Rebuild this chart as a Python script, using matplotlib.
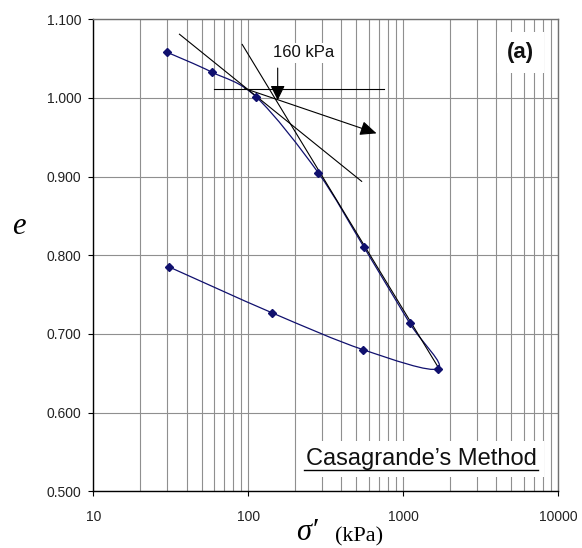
import numpy as np
import matplotlib
matplotlib.use("Agg")
import matplotlib.pyplot as plt
from matplotlib.path import Path
from matplotlib.patches import PathPatch
from matplotlib.ticker import FixedLocator, FixedFormatter, FormatStrFormatter

# oedometer test: loading then unloading, one Excel "smoothed line" series
sigma = [30, 58, 113, 283, 560, 1100, 1680, 552, 142, 31]
void_ratio = [1.058, 1.033, 1.001, 0.905, 0.810, 0.714, 0.656, 0.680, 0.727, 0.785]

# Casagrande construction lines (start, end)
tangent_sigma = [36, 540]
tangent_e = [1.081, 0.894]
vcl_sigma = [91.5, 1680]
vcl_e = [1.068, 0.658]
horiz_sigma = [60, 750]
horiz_e = [1.012, 1.012]
bisector_sigma = [95, 674]
bisector_e = [1.012, 0.955]
pc_sigma = 155
pc_e = [1.038, 0.997]

x_ticks = [10, 100, 1000, 10000]
x_ticklabels = ["10", "100", "1000", "10000"]
y_ticks = [0.5, 0.6, 0.7, 0.8, 0.9, 1.0, 1.1]

NAVY = "#10106e"
GRID = "#8f8f8f"
SANS = ["Liberation Sans", "DejaVu Sans"]
SERIF = ["Liberation Serif", "DejaVu Serif"]


def smooth_path(xs, ys):
    """Catmull-Rom style Bezier through the points, built in (log x, y) space."""
    lx = np.log10(np.asarray(xs, dtype=float))
    y = np.asarray(ys, dtype=float)
    pts = np.column_stack([lx, y])
    n = len(pts)
    verts = [pts[0]]
    codes = [Path.MOVETO]
    for i in range(n - 1):
        p0 = pts[max(i - 1, 0)]
        p1 = pts[i]
        p2 = pts[i + 1]
        p3 = pts[min(i + 2, n - 1)]
        c1 = p1 + (p2 - p0) / 6.0
        c2 = p2 - (p3 - p1) / 6.0
        verts += [c1, c2, p2]
        codes += [Path.CURVE4] * 3
    verts = np.array(verts)
    verts[:, 0] = 10 ** verts[:, 0]
    return Path(verts, codes)


fig = plt.figure(figsize=(5.82, 5.48), dpi=100)
ax = fig.add_axes([0.1603, 0.1035, 0.7985, 0.8613])

ax.set_xscale("log")
ax.set_xlim(10, 10000)
ax.set_ylim(0.5, 1.1)

ax.xaxis.set_major_locator(FixedLocator(x_ticks))
ax.xaxis.set_major_formatter(FixedFormatter(x_ticklabels))
ax.xaxis.set_minor_formatter(FixedFormatter([]))
ax.yaxis.set_major_locator(FixedLocator(y_ticks))
ax.yaxis.set_major_formatter(FormatStrFormatter("%.3f"))

ax.grid(True, which="both", axis="x", color=GRID, lw=0.8)
ax.grid(True, which="major", axis="y", color=GRID, lw=0.8)
ax.set_axisbelow(True)

ax.tick_params(axis="both", which="major", direction="out", length=3.5,
               width=0.8, color="black", labelsize=10, labelcolor="#222222")
ax.tick_params(axis="x", which="major", pad=10)
ax.tick_params(axis="y", which="major", pad=5)
ax.tick_params(axis="x", which="minor", length=0)
for lab in ax.get_xticklabels() + ax.get_yticklabels():
    lab.set_fontfamily(SANS)

for side in ["left", "bottom"]:
    ax.spines[side].set_color("black")
    ax.spines[side].set_linewidth(1.0)
for side in ["top", "right"]:
    ax.spines[side].set_color("#707070")
    ax.spines[side].set_linewidth(1.0)

# data series (smoothed) and markers
ax.add_patch(PathPatch(smooth_path(sigma, void_ratio), fill=False,
                       edgecolor=NAVY, lw=0.9, zorder=2.5))
ax.plot(sigma, void_ratio, ls="none", marker="D", ms=3.6, color=NAVY, zorder=4)

# construction lines
ax.plot(tangent_sigma, tangent_e, color="black", lw=0.8, zorder=3)
ax.plot(vcl_sigma, vcl_e, color="black", lw=0.8, zorder=3)
ax.plot(horiz_sigma, horiz_e, color="black", lw=0.8, zorder=3)
ax.annotate("", xy=(bisector_sigma[1], bisector_e[1]),
            xytext=(bisector_sigma[0], bisector_e[0]),
            arrowprops=dict(arrowstyle="-|>,head_length=0.5,head_width=0.22",
                            mutation_scale=20, color="black", lw=0.8,
                            shrinkA=0, shrinkB=0), zorder=3)
ax.annotate("", xy=(pc_sigma, pc_e[1]), xytext=(pc_sigma, pc_e[0]),
            arrowprops=dict(arrowstyle="-|>,head_length=0.45,head_width=0.22",
                            mutation_scale=20, color="black", lw=0.8,
                            shrinkA=0, shrinkB=0), zorder=3)

# text boxes
ax.text(0.4534, 0.9286, "160 kPa", transform=ax.transAxes, ha="center",
        va="center", fontsize=12, family=SANS, color="#111111", zorder=5,
        bbox=dict(boxstyle="square,pad=0.15", fc="white", ec="none"))
ax.text(0.920, 0.9286, "(a)", transform=ax.transAxes, ha="center",
        va="center", fontsize=16, fontweight="bold", family=SANS,
        color="#111111", zorder=5,
        bbox=dict(boxstyle="square,pad=0.45", fc="white", ec="none"))
ax.text(0.706, 0.0557, "Casagrande\u2019s Method", transform=ax.transAxes,
        ha="center", va="baseline", fontsize=17, family=SANS, color="#111111",
        zorder=5, bbox=dict(boxstyle="square,pad=0.3", fc="white", ec="none"))
ax.plot([0.453, 0.956], [0.046, 0.046], transform=ax.transAxes,
        color="black", lw=1.0, zorder=6, clip_on=False)

# axis labels
fig.text(19 / 582, 1 - 227 / 548, "e", ha="center", va="center",
         fontsize=22, style="italic", family=SERIF)
fig.text(296 / 582, 1 - 547 / 548, "\u03c3\u2032", ha="left", va="bottom",
         fontsize=22, style="italic", family=SERIF)
fig.text(335 / 582, 1 - 541 / 548, "(kPa)", ha="left", va="baseline",
         fontsize=16, family=SERIF)

fig.savefig("out.png", dpi=100)
